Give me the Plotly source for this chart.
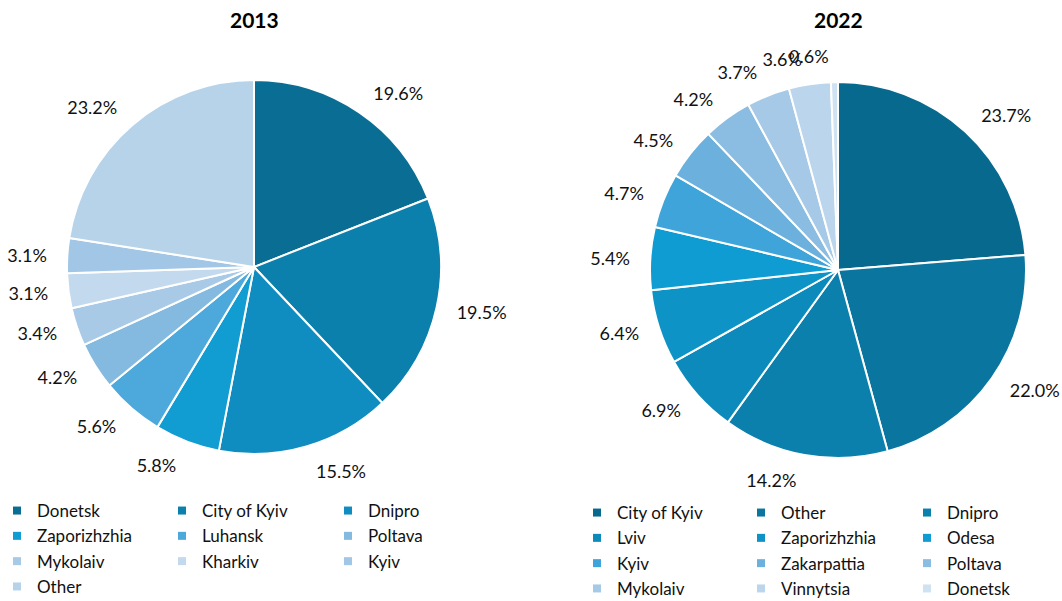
import plotly.graph_objects as go

W, H = 1062, 601

years = ["2013", "2022"]

regions_2013 = ["Donetsk", "City of Kyiv", "Dnipro", "Zaporizhzhia", "Luhansk",
                "Poltava", "Mykolaiv", "Kharkiv", "Kyiv", "Other"]
shares_2013 = [19.6, 19.5, 15.5, 5.8, 5.6, 4.2, 3.4, 3.1, 3.1, 23.2]
colors_2013 = ["#0A6E94", "#0B80AD", "#0F8DC0", "#119CD2", "#4DA9DB",
               "#84BADF", "#A8CAE7", "#C3D9EE", "#A2C6E6", "#B6D3EA"]

regions_2022 = ["City of Kyiv", "Other", "Dnipro", "Lviv", "Zaporizhzhia", "Odesa",
                "Kyiv", "Zakarpattia", "Poltava", "Mykolaiv", "Vinnytsia", "Donetsk"]
shares_2022 = [23.7, 22.0, 14.2, 6.9, 6.4, 5.4, 4.7, 4.5, 4.2, 3.7, 3.6, 0.6]
colors_2022 = ["#08698F", "#0A76A0", "#0B80AD", "#0C8ABB", "#0E93C7", "#0F9CD2",
               "#3EA4D9", "#6CB1DD", "#8ABDE1", "#A5C9E6", "#BBD5EC", "#CFE2F2"]

FONT = "Lato"
fig = go.Figure()

# pie geometry in pixels: (left, right, top, bottom)
pie_boxes = [(67, 441, 80, 454), (650, 1026, 82, 458)]
LABEL_PAD = 15      # labels sit a little further out than plotly's default
N_LABEL_LAYERS = 3  # spread labels over layers so plotly does not stack them
datasets = [(regions_2013, shares_2013, colors_2013),
            (regions_2022, shares_2022, colors_2022)]

for (l, r, t, b), (labels, vals, cols) in zip(pie_boxes, datasets):
    p = LABEL_PAD
    # invisible, slightly larger pies that only carry the percentage labels
    for layer in range(N_LABEL_LAYERS):
        fig.add_trace(go.Pie(
            labels=labels, values=vals, sort=False, direction="clockwise", rotation=0,
            marker=dict(colors=["rgba(0,0,0,0)"] * len(vals), line=dict(width=0)),
            textposition=["outside" if i % N_LABEL_LAYERS == layer else "none"
                          for i in range(len(vals))],
            texttemplate="%{value:.1f}%",
            textfont=dict(family=FONT, size=18, color="#111"),
            domain=dict(x=[(l - p) / W, (r + p) / W], y=[1 - (b + p) / H, 1 - (t - p) / H]),
            showlegend=False, hoverinfo="skip",
        ))
    fig.add_trace(go.Pie(
        labels=labels, values=vals, sort=False, direction="clockwise", rotation=0,
        marker=dict(colors=cols, line=dict(color="white", width=2)),
        textinfo="none",
        domain=dict(x=[l / W, r / W], y=[1 - b / H, 1 - t / H]),
        showlegend=False, hoverinfo="label+value",
    ))

# legend columns (3 per chart) built from the region lists
legend_text_x = [[37, 202, 368], [617, 781, 947]]
legend_top = [493, 495]
layout_legends = {}
n = 0
for ci, (labels, vals, cols) in enumerate(datasets):
    for col in range(3):
        n += 1
        lname = "legend" if n == 1 else f"legend{n}"
        for lab, c in zip(labels[col::3], cols[col::3]):
            fig.add_trace(go.Scatter(
                x=[None], y=[None], mode="markers", name=lab,
                marker=dict(symbol="square", size=8, color=c),
                legend=lname, legendgroup=f"{ci}-{lab}", showlegend=True,
                hoverinfo="skip",
            ))
        layout_legends[lname] = dict(
            x=(legend_text_x[ci][col] - 40) / W, y=1 - legend_top[ci] / H,
            xanchor="left", yanchor="top", orientation="v",
            font=dict(family=FONT, size=17, color="#111"),
            bgcolor="rgba(0,0,0,0)", itemwidth=30, tracegroupgap=0.2,
            itemclick=False, itemdoubleclick=False,
        )

annotations = []
for (l, r, t, b), yr in zip(pie_boxes, years):
    annotations.append(dict(
        text=f"<b>{yr}</b>", x=(l + r) / 2 / W, y=1 - 20 / H, xref="paper", yref="paper",
        xanchor="center", yanchor="middle", showarrow=False,
        font=dict(family=FONT, size=21, color="#000"),
    ))

fig.update_layout(
    width=W, height=H,
    margin=dict(l=0, r=0, t=0, b=0, autoexpand=False),
    paper_bgcolor="white", plot_bgcolor="white",
    xaxis=dict(visible=False), yaxis=dict(visible=False),
    annotations=annotations,
    **layout_legends,
)

fig.write_html("out.html", config={"displayModeBar": False},
               post_script="document.body.style.margin='0';")
